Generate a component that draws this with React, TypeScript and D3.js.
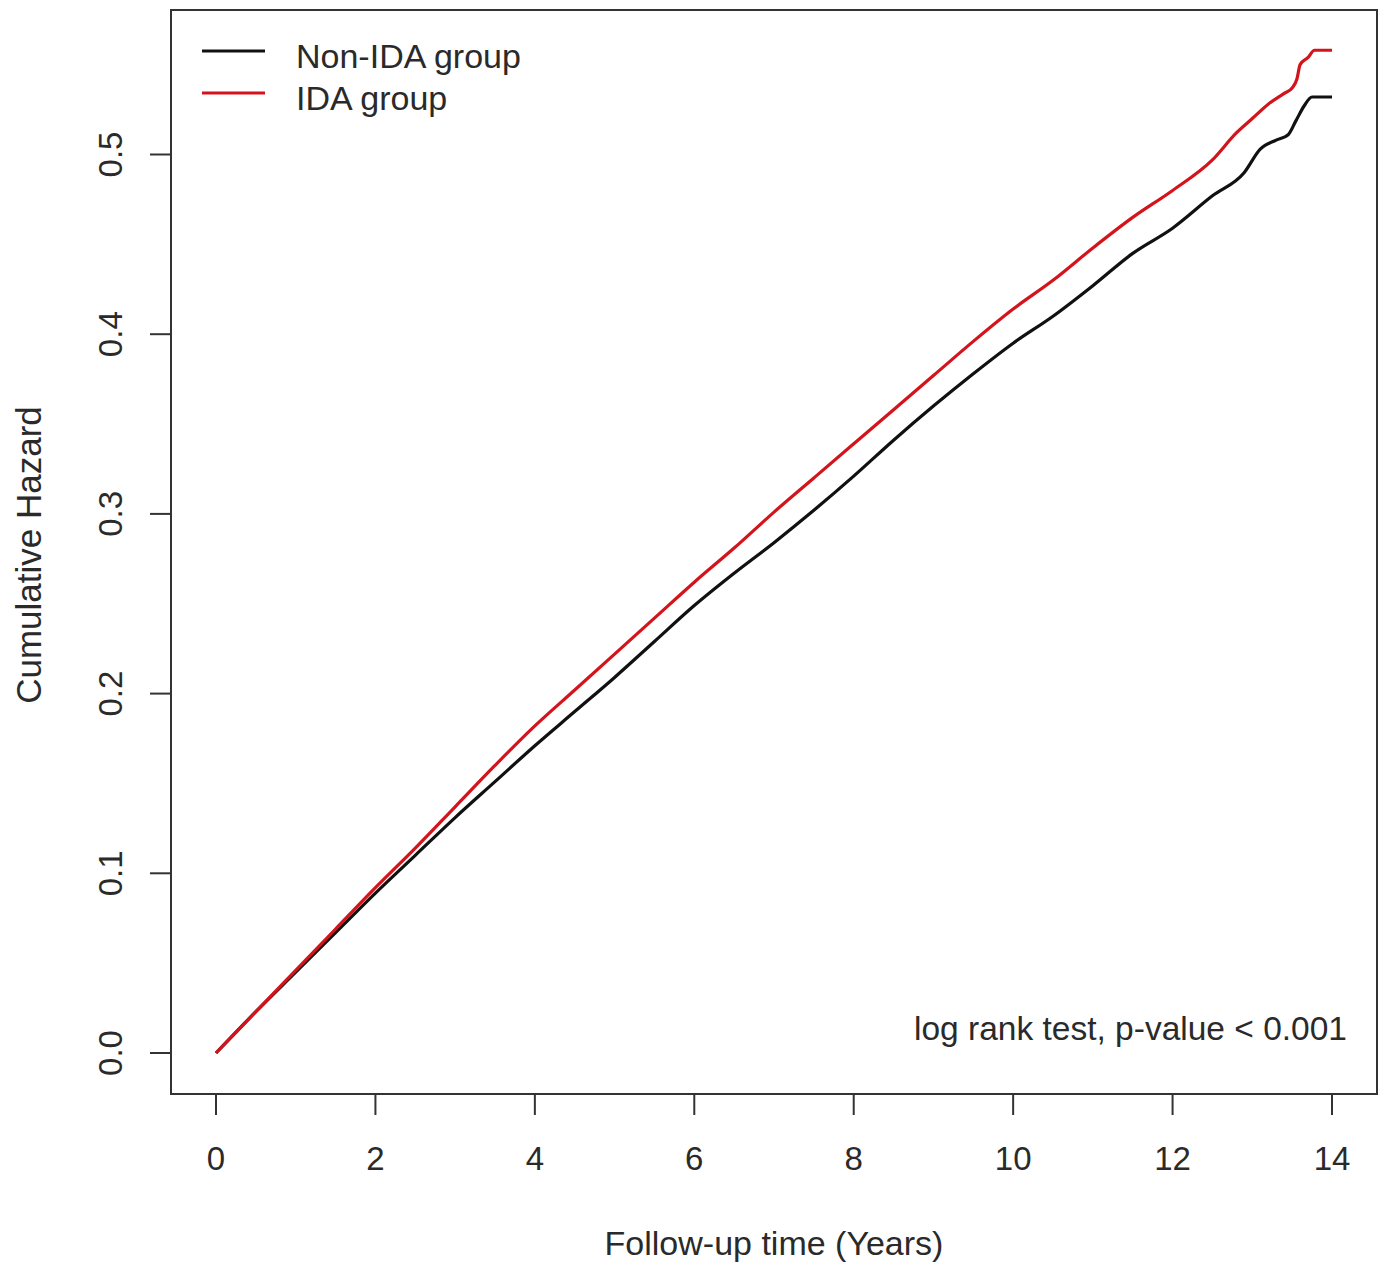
import React from 'react';
import * as d3 from 'd3';

// cumulative hazard
const years = [0, 0.5, 1, 1.5, 2, 2.5, 3, 3.5, 4, 4.5, 5, 5.5, 6, 6.5, 7, 7.5, 8, 8.5, 9, 9.5, 10, 10.5, 11, 11.5, 12, 12.5];
const nonIda = [0, 0.023, 0.045, 0.067, 0.089, 0.11, 0.131, 0.151, 0.171, 0.19, 0.209, 0.229, 0.249, 0.267, 0.284, 0.302, 0.321, 0.341, 0.36, 0.378, 0.395, 0.41, 0.427, 0.445, 0.459, 0.477];
const ida = [0, 0.023, 0.046, 0.069, 0.092, 0.114, 0.137, 0.16, 0.182, 0.202, 0.222, 0.242, 0.262, 0.281, 0.301, 0.32, 0.339, 0.358, 0.377, 0.396, 0.414, 0.43, 0.448, 0.465, 0.48, 0.497];

// the tail is steppier, so more readings there
const nonIdaTailT = [12.9, 13.1, 13.3, 13.45, 13.55, 13.65, 13.75, 14];
const nonIdaTailV = [0.49, 0.503, 0.508, 0.511, 0.519, 0.527, 0.532, 0.532];
const idaTailT = [12.8, 13, 13.2, 13.4, 13.5, 13.56, 13.6, 13.7, 13.78, 14];
const idaTailV = [0.512, 0.52, 0.528, 0.534, 0.537, 0.542, 0.55, 0.554, 0.558, 0.558];

const xTicks = [0, 2, 4, 6, 8, 10, 12, 14];
const yTicks = [0, 0.1, 0.2, 0.3, 0.4, 0.5];

const groups = ['Non-IDA group', 'IDA group'];
const colors = ['#111111', '#d4141c'];

const W = 1382, H = 1266;
const box = { left: 171, right: 1377, top: 10, bottom: 1094 };

const x = d3.scaleLinear().domain([0, 14]).range([216, 1332]);
const y = d3.scaleLinear().domain([0, 0.5]).range([1053, 154.5]);

const font = '"Liberation Sans", Arial, sans-serif';
const ink = '#2a2a2a';

function series(t: number[], v: number[], tt: number[], tv: number[]) {
  return t.map((d, i) => [d, v[i]]).concat(tt.map((d, i) => [d, tv[i]]));
}

const lines = [
  series(years, nonIda, nonIdaTailT, nonIdaTailV),
  series(years, ida, idaTailT, idaTailV),
];

const line = d3.line<number[]>()
  .x(d => x(d[0]))
  .y(d => y(d[1]))
  .curve(d3.curveMonotoneX);

export default function App() {
  return (
    <svg width={W} height={H} style={{ position: 'absolute', left: 0, top: 0, background: '#fff' }}
         fontFamily={font}>
      <rect x={box.left} y={box.top} width={box.right - box.left} height={box.bottom - box.top}
            fill="none" stroke="#333" strokeWidth={2} />

      {lines.map((d, i) =>
        <path key={i} d={line(d) || ''} fill="none" stroke={colors[i]} strokeWidth={3.2}
              strokeLinejoin="round" />
      )}

      {/* x axis */}
      {xTicks.map(t =>
        <g key={t}>
          <line x1={x(t)} x2={x(t)} y1={box.bottom} y2={box.bottom + 21} stroke="#333" strokeWidth={2} />
          <text x={x(t)} y={1170} textAnchor="middle" fontSize={33} fill={ink}>{t}</text>
        </g>
      )}

      {/* y axis */}
      {yTicks.map(t =>
        <g key={t}>
          <line x1={box.left - 21} x2={box.left} y1={y(t)} y2={y(t)} stroke="#333" strokeWidth={2} />
          <text transform={`translate(122,${y(t)}) rotate(-90)`} textAnchor="middle" fontSize={33}
                fill={ink}>{d3.format('.1f')(t)}</text>
        </g>
      )}

      <text x={(box.left + box.right) / 2} y={1255} textAnchor="middle" fontSize={34} fill={ink}>
        Follow-up time (Years)
      </text>
      <text transform={`translate(41,${(box.top + box.bottom) / 2 + 3}) rotate(-90)`} textAnchor="middle"
            fontSize={35} fill={ink}>Cumulative Hazard</text>

      {/* legend */}
      {groups.map((g, i) =>
        <g key={g}>
          <line x1={202} x2={265} y1={51 + i * 42} y2={51 + i * 42} stroke={colors[i]} strokeWidth={3.2} />
          <text x={296} y={68 + i * 42} fontSize={34} fill={ink}>{g}</text>
        </g>
      )}

      <text x={1347} y={1040} textAnchor="end" fontSize={33.5} fill={ink}>
        log rank test, p-value &lt; 0.001
      </text>
    </svg>
  );
}
